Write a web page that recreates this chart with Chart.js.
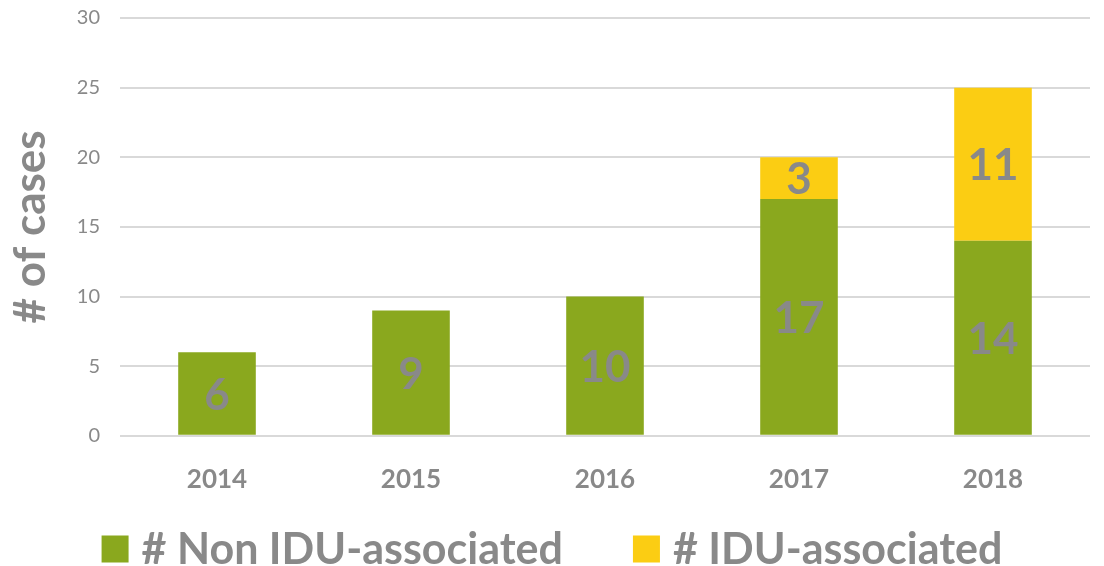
<!DOCTYPE html>
<html>
<head>
<meta charset="utf-8">
<script src="https://cdn.jsdelivr.net/npm/chart.js@4"></script>
<style>
    html, body { margin: 0; padding: 0; background: #fff; }
    #wrap { width: 1104px; height: 566px; }
</style>
</head>
<body>
<div id="wrap"><canvas id="casesChart" width="1104" height="566"></canvas></div>
<script>
const years = ['2014', '2015', '2016', '2017', '2018'];
const nonIduCases = [6, 9, 10, 17, 14];
const iduCases = [0, 0, 0, 3, 11];
const yTicks = [0, 5, 10, 15, 20, 25, 30];

const GREY = '#898989';
const FONT = 'Lato, "Open Sans", sans-serif';

// Draw the value in the middle of each bar segment (skip zeros)
const segmentLabels = {
    id: 'segmentLabels',
    afterDatasetsDraw(chart) {
        const ctx = chart.ctx;
        ctx.save();
        ctx.font = 'bold 44px ' + FONT;
        ctx.fillStyle = GREY;
        ctx.textAlign = 'center';
        ctx.textBaseline = 'middle';
        chart.data.datasets.forEach((ds, i) => {
            chart.getDatasetMeta(i).data.forEach((bar, j) => {
                const v = ds.data[j];
                if (!v) return;
                const mid = (bar.y + bar.base) / 2;
                ctx.fillText(String(v), bar.x, mid + 2);
            });
        });
        ctx.restore();
    }
};

// Bottom legend with a wide gap between the two items
const bottomLegend = {
    id: 'bottomLegend',
    afterDraw(chart) {
        const ctx = chart.ctx;
        const box = 27, gapText = 13, gapItem = 70;
        ctx.save();
        ctx.font = 'bold 43px ' + FONT;
        ctx.textBaseline = 'middle';
        const items = chart.data.datasets.map(ds => ({
            text: ds.label,
            color: ds.backgroundColor,
            w: box + gapText + ctx.measureText(ds.label).width
        }));
        const total = items.reduce((s, it) => s + it.w, 0) + gapItem * (items.length - 1);
        let x = (chart.width - total) / 2;
        const y = 549;
        items.forEach(it => {
            ctx.fillStyle = it.color;
            ctx.fillRect(x, y - box / 2, box, box);
            ctx.fillStyle = GREY;
            ctx.fillText(it.text, x + box + gapText, y + 1);
            x += it.w + gapItem;
        });
        ctx.restore();
    }
};

new Chart(document.getElementById('casesChart'), {
    type: 'bar',
    data: {
        labels: years,
        datasets: [
            {
                label: '# Non IDU-associated',
                data: nonIduCases,
                backgroundColor: '#8AA81E',
                borderWidth: 0
            },
            {
                label: '# IDU-associated',
                data: iduCases,
                backgroundColor: '#FBCD13',
                borderWidth: 0
            }
        ]
    },
    options: {
        responsive: false,
        animation: false,
        layout: { padding: { left: 0, right: 14, top: 0, bottom: 51 } },
        datasets: {
            bar: { categoryPercentage: 1, barPercentage: 0.4 }
        },
        plugins: {
            tooltip: { enabled: false },
            legend: { display: false }
        },
        scales: {
            x: {
                stacked: true,
                grid: { display: false },
                border: { display: false },
                ticks: {
                    color: GREY,
                    padding: 20,
                    font: { family: FONT, size: 26, weight: 'bold' }
                }
            },
            y: {
                stacked: true,
                min: 0,
                max: 30,
                afterBuildTicks(axis) {
                    axis.ticks = yTicks.map(v => ({ value: v }));
                },
                // tick padding is horizontal here; don't let it push the top down
                afterFit(axis) {
                    axis.paddingTop = 18;
                    axis.paddingBottom = 12;
                },
                grid: { color: '#D9D9D9', lineWidth: 2, drawTicks: false },
                border: { display: false },
                ticks: {
                    color: GREY,
                    padding: 20,
                    font: { family: FONT, size: 20 }
                },
                title: {
                    display: true,
                    text: '# of cases',
                    color: GREY,
                    padding: { top: 4, bottom: 0 },
                    font: { family: FONT, size: 44, weight: 'bold' }
                }
            }
        }
    },
    plugins: [segmentLabels, bottomLegend]
});
</script>
</body>
</html>
